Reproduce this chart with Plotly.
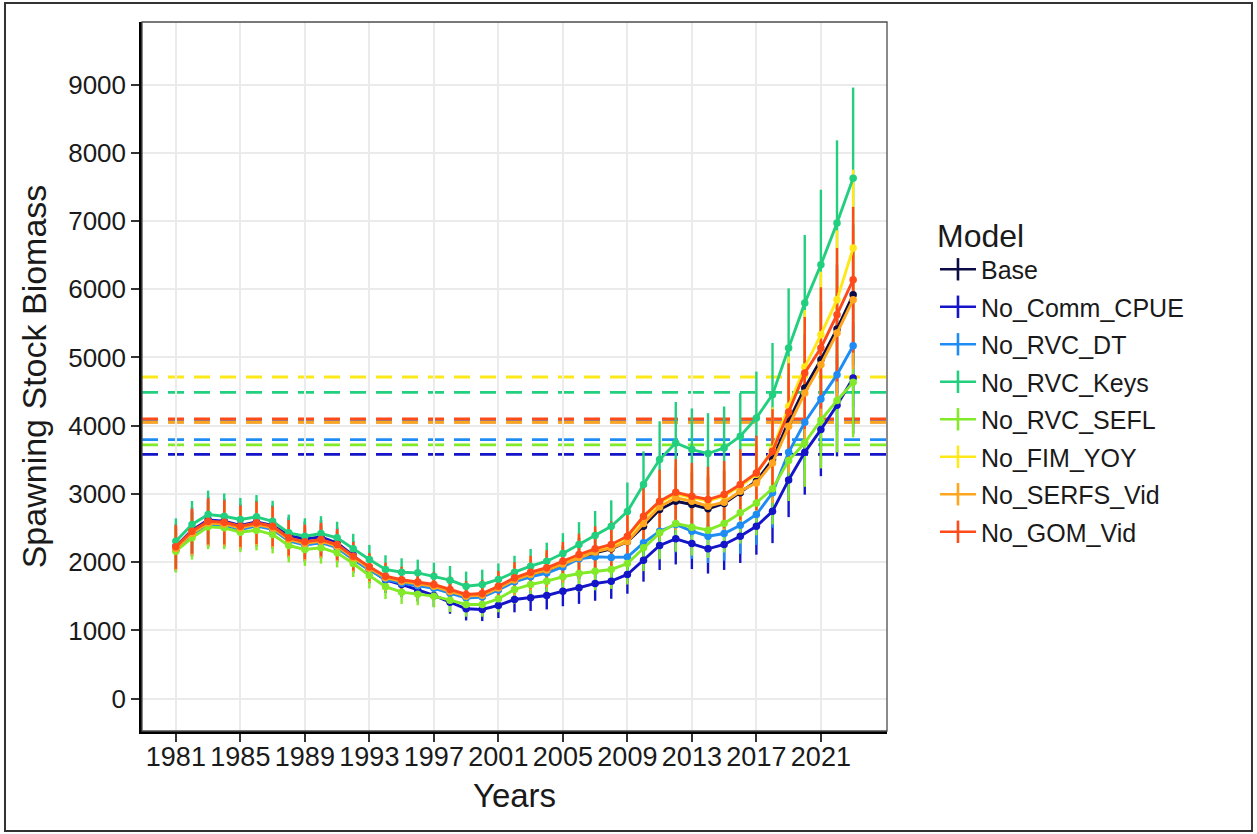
import plotly.graph_objects as go

# ---- data -------------------------------------------------------------
years = list(range(1981, 2024))

models = ["Base", "No_Comm_CPUE", "No_RVC_DT", "No_RVC_Keys",
          "No_RVC_SEFL", "No_FIM_YOY", "No_SERFS_Vid", "No_GOM_Vid"]

colors = ["#0B0B45", "#1414C8", "#1E8CF5", "#22CF7E",
          "#82EA28", "#FFE81A", "#FFA51E", "#FF4A1A"]

ssb_base = [2195, 2420, 2570, 2555, 2497, 2547, 2497, 2330, 2270, 2302,
            2230, 2060, 1905, 1768, 1712, 1678, 1640, 1565, 1495, 1508,
            1612, 1732, 1810, 1872, 1965, 2058, 2138, 2196, 2300, 2527,
            2771, 2893, 2845, 2782, 2859, 3016, 3186, 3503, 4064, 4553,
            4967, 5417, 5919]
ssb_no_comm_cpue = [2230, 2470, 2620, 2600, 2540, 2590, 2540, 2390, 2340, 2370,
                    2280, 2100, 1900, 1740, 1673, 1590, 1512, 1414, 1317, 1307,
                    1366, 1454, 1478, 1512, 1575, 1625, 1688, 1722, 1820, 2029,
                    2244, 2342, 2274, 2196, 2259, 2381, 2527, 2746, 3205, 3610,
                    3943, 4299, 4699]
ssb_no_rvc_dt = [2180, 2405, 2555, 2540, 2480, 2530, 2480, 2312, 2252, 2285,
                 2212, 2040, 1885, 1748, 1692, 1656, 1618, 1545, 1475, 1488,
                 1592, 1712, 1785, 1840, 1930, 2050, 2079, 2070, 2075, 2284,
                 2454, 2552, 2454, 2381, 2420, 2542, 2698, 3016, 3610, 4050,
                 4392, 4748, 5172]
ssb_no_rvc_keys = [2307, 2552, 2698, 2673, 2625, 2664, 2600, 2430, 2381, 2420,
                   2357, 2196, 2039, 1893, 1853, 1844, 1795, 1736, 1648, 1673,
                   1746, 1853, 1941, 2014, 2127, 2259, 2391, 2527, 2742, 3138,
                   3504, 3748, 3650, 3591, 3675, 3845, 4114, 4455, 5139, 5797,
                   6358, 6969, 7628]
ssb_no_rvc_sefl = [2161, 2357, 2518, 2503, 2439, 2469, 2405, 2244, 2186, 2211,
                   2137, 1981, 1805, 1640, 1560, 1530, 1502, 1443, 1380, 1380,
                   1464, 1600, 1673, 1722, 1786, 1834, 1868, 1893, 1980, 2211,
                   2430, 2566, 2513, 2469, 2566, 2723, 2869, 3077, 3490, 3750,
                   4080, 4370, 4635]
ssb_no_fim_yoy = [2212, 2440, 2588, 2572, 2514, 2564, 2514, 2345, 2286, 2320,
                  2246, 2076, 1920, 1783, 1730, 1698, 1660, 1588, 1515, 1530,
                  1635, 1758, 1838, 1902, 1998, 2095, 2178, 2240, 2355, 2640,
                  2870, 3000, 2945, 2895, 2970, 3115, 3290, 3650, 4284, 4860,
                  5334, 5846, 6603]
ssb_no_serfs_vid = [2200, 2425, 2575, 2560, 2502, 2552, 2502, 2335, 2275, 2308,
                    2236, 2066, 1910, 1772, 1718, 1684, 1646, 1572, 1502, 1516,
                    1620, 1740, 1820, 1885, 1975, 2070, 2150, 2205, 2298, 2566,
                    2811, 2942, 2893, 2820, 2878, 3039, 3162, 3455, 3991, 4480,
                    4894, 5358, 5846]
ssb_no_gom_vid = [2225, 2454, 2600, 2585, 2527, 2577, 2527, 2357, 2298, 2332,
                  2259, 2088, 1932, 1795, 1742, 1710, 1673, 1600, 1527, 1541,
                  1648, 1771, 1853, 1918, 2014, 2112, 2196, 2259, 2381, 2673,
                  2893, 3025, 2966, 2918, 2991, 3137, 3308, 3625, 4200, 4773,
                  5139, 5626, 6139]

# relative half-width of the 95% interval, by year
ci_rel = [0.145, 0.135, 0.130, 0.125, 0.120, 0.120, 0.115, 0.110, 0.110, 0.105,
          0.100, 0.100, 0.105, 0.110, 0.110, 0.105, 0.110, 0.120, 0.130, 0.130,
          0.135, 0.130, 0.130, 0.135, 0.140, 0.145, 0.150, 0.150, 0.155, 0.155,
          0.160, 0.160, 0.165, 0.165, 0.165, 0.165, 0.165, 0.170, 0.170, 0.172,
          0.173, 0.174, 0.174]

# SSB reference level for each model run (dashed lines)
ssb_ref = [4055, 3581, 3797, 4489, 3719, 4714, 4050, 4100]

x_ticks = [1981, 1985, 1989, 1993, 1997, 2001, 2005, 2009, 2013, 2017, 2021]
y_ticks = [0, 1000, 2000, 3000, 4000, 5000, 6000, 7000, 8000, 9000]

series = [ssb_base, ssb_no_comm_cpue, ssb_no_rvc_dt, ssb_no_rvc_keys,
          ssb_no_rvc_sefl, ssb_no_fim_yoy, ssb_no_serfs_vid, ssb_no_gom_vid]

# ---- figure -----------------------------------------------------------
FONT = "Liberation Sans, Arial, sans-serif"
TXT = "#1a1a1a"
fig = go.Figure()

# reference levels, drawn beneath the traces
for name, col, ref in zip(models, colors, ssb_ref):
    fig.add_hline(y=ref, line=dict(color=col, width=2.8, dash="16px,10px"),
                  layer="below")

# interval bars first, so every line sits above them
for name, col, vals in zip(models, colors, series):
    half = [v * r for v, r in zip(vals, ci_rel)]
    fig.add_trace(go.Scatter(
        x=years, y=vals, mode="markers",
        marker=dict(size=0, color="rgba(0,0,0,0)"),
        error_y=dict(type="data", array=half, symmetric=True,
                     color=col, thickness=2.4, width=0),
        showlegend=False, hoverinfo="skip"))

# trajectories
for name, col, vals in zip(models, colors, series):
    fig.add_trace(go.Scatter(
        x=years, y=vals, mode="lines+markers", name=name,
        line=dict(color=col, width=2.9),
        marker=dict(color=col, size=7.5, symbol="circle"),
        showlegend=False, legendgroup=name))

# legend keys: a horizontal stroke crossed by a vertical bar
for name, col in zip(models, colors):
    fig.add_trace(go.Scatter(
        x=[None], y=[None], mode="lines+markers", name=name,
        line=dict(color=col, width=2.6),
        marker=dict(symbol="line-ns-open", size=16, color=col,
                    line=dict(color=col, width=2.6)),
        legendgroup=name, showlegend=True))

# panel border
fig.add_shape(type="rect", xref="paper", yref="paper", x0=0, x1=1, y0=0, y1=1,
              line=dict(color="#4d4d4d", width=1.3), layer="above")
# outer frame around the whole graphic
fig.add_shape(type="rect", xref="paper", yref="paper",
              x0=-0.1839, x1=1.4899, y0=-0.141, y1=1.0268,
              line=dict(color="#333333", width=2), layer="above")

fig.update_layout(
    width=1257, height=834,
    margin=dict(l=142, r=370, t=22, b=103),
    paper_bgcolor="white", plot_bgcolor="white",
    font=dict(family=FONT, color=TXT),
    showlegend=True,
    legend=dict(
        title=dict(text="Model", font=dict(size=32, color=TXT)),
        font=dict(size=25, color=TXT),
        x=1.0644, xanchor="left", y=0.742, yanchor="top",
        bgcolor="rgba(0,0,0,0)", tracegroupgap=2, itemwidth=36),
)

fig.update_xaxes(
    range=[1978.9, 2025.1], tickmode="array", tickvals=x_ticks,
    ticktext=[str(t) for t in x_ticks],
    showgrid=True, gridcolor="#EBEBEB", gridwidth=2,
    zeroline=False, showline=True, linecolor="black", linewidth=2.5,
    ticks="outside", ticklen=8, tickwidth=2, tickcolor="#333333",
    ticklabelstandoff=-8,
    tickfont=dict(size=27, color=TXT),
    title=dict(text="Years", font=dict(size=33, color=TXT), standoff=13))

fig.update_yaxes(
    range=[-474, 9916], tickmode="array", tickvals=y_ticks,
    showgrid=True, gridcolor="#EBEBEB", gridwidth=2,
    zeroline=False, showline=True, linecolor="black", linewidth=2.5,
    ticks="outside", ticklen=8, tickwidth=2, tickcolor="#333333",
    tickfont=dict(size=26, color=TXT),
    title=dict(text="Spawning Stock Biomass", font=dict(size=34, color=TXT),
               standoff=12))

fig.write_html("out.html")
